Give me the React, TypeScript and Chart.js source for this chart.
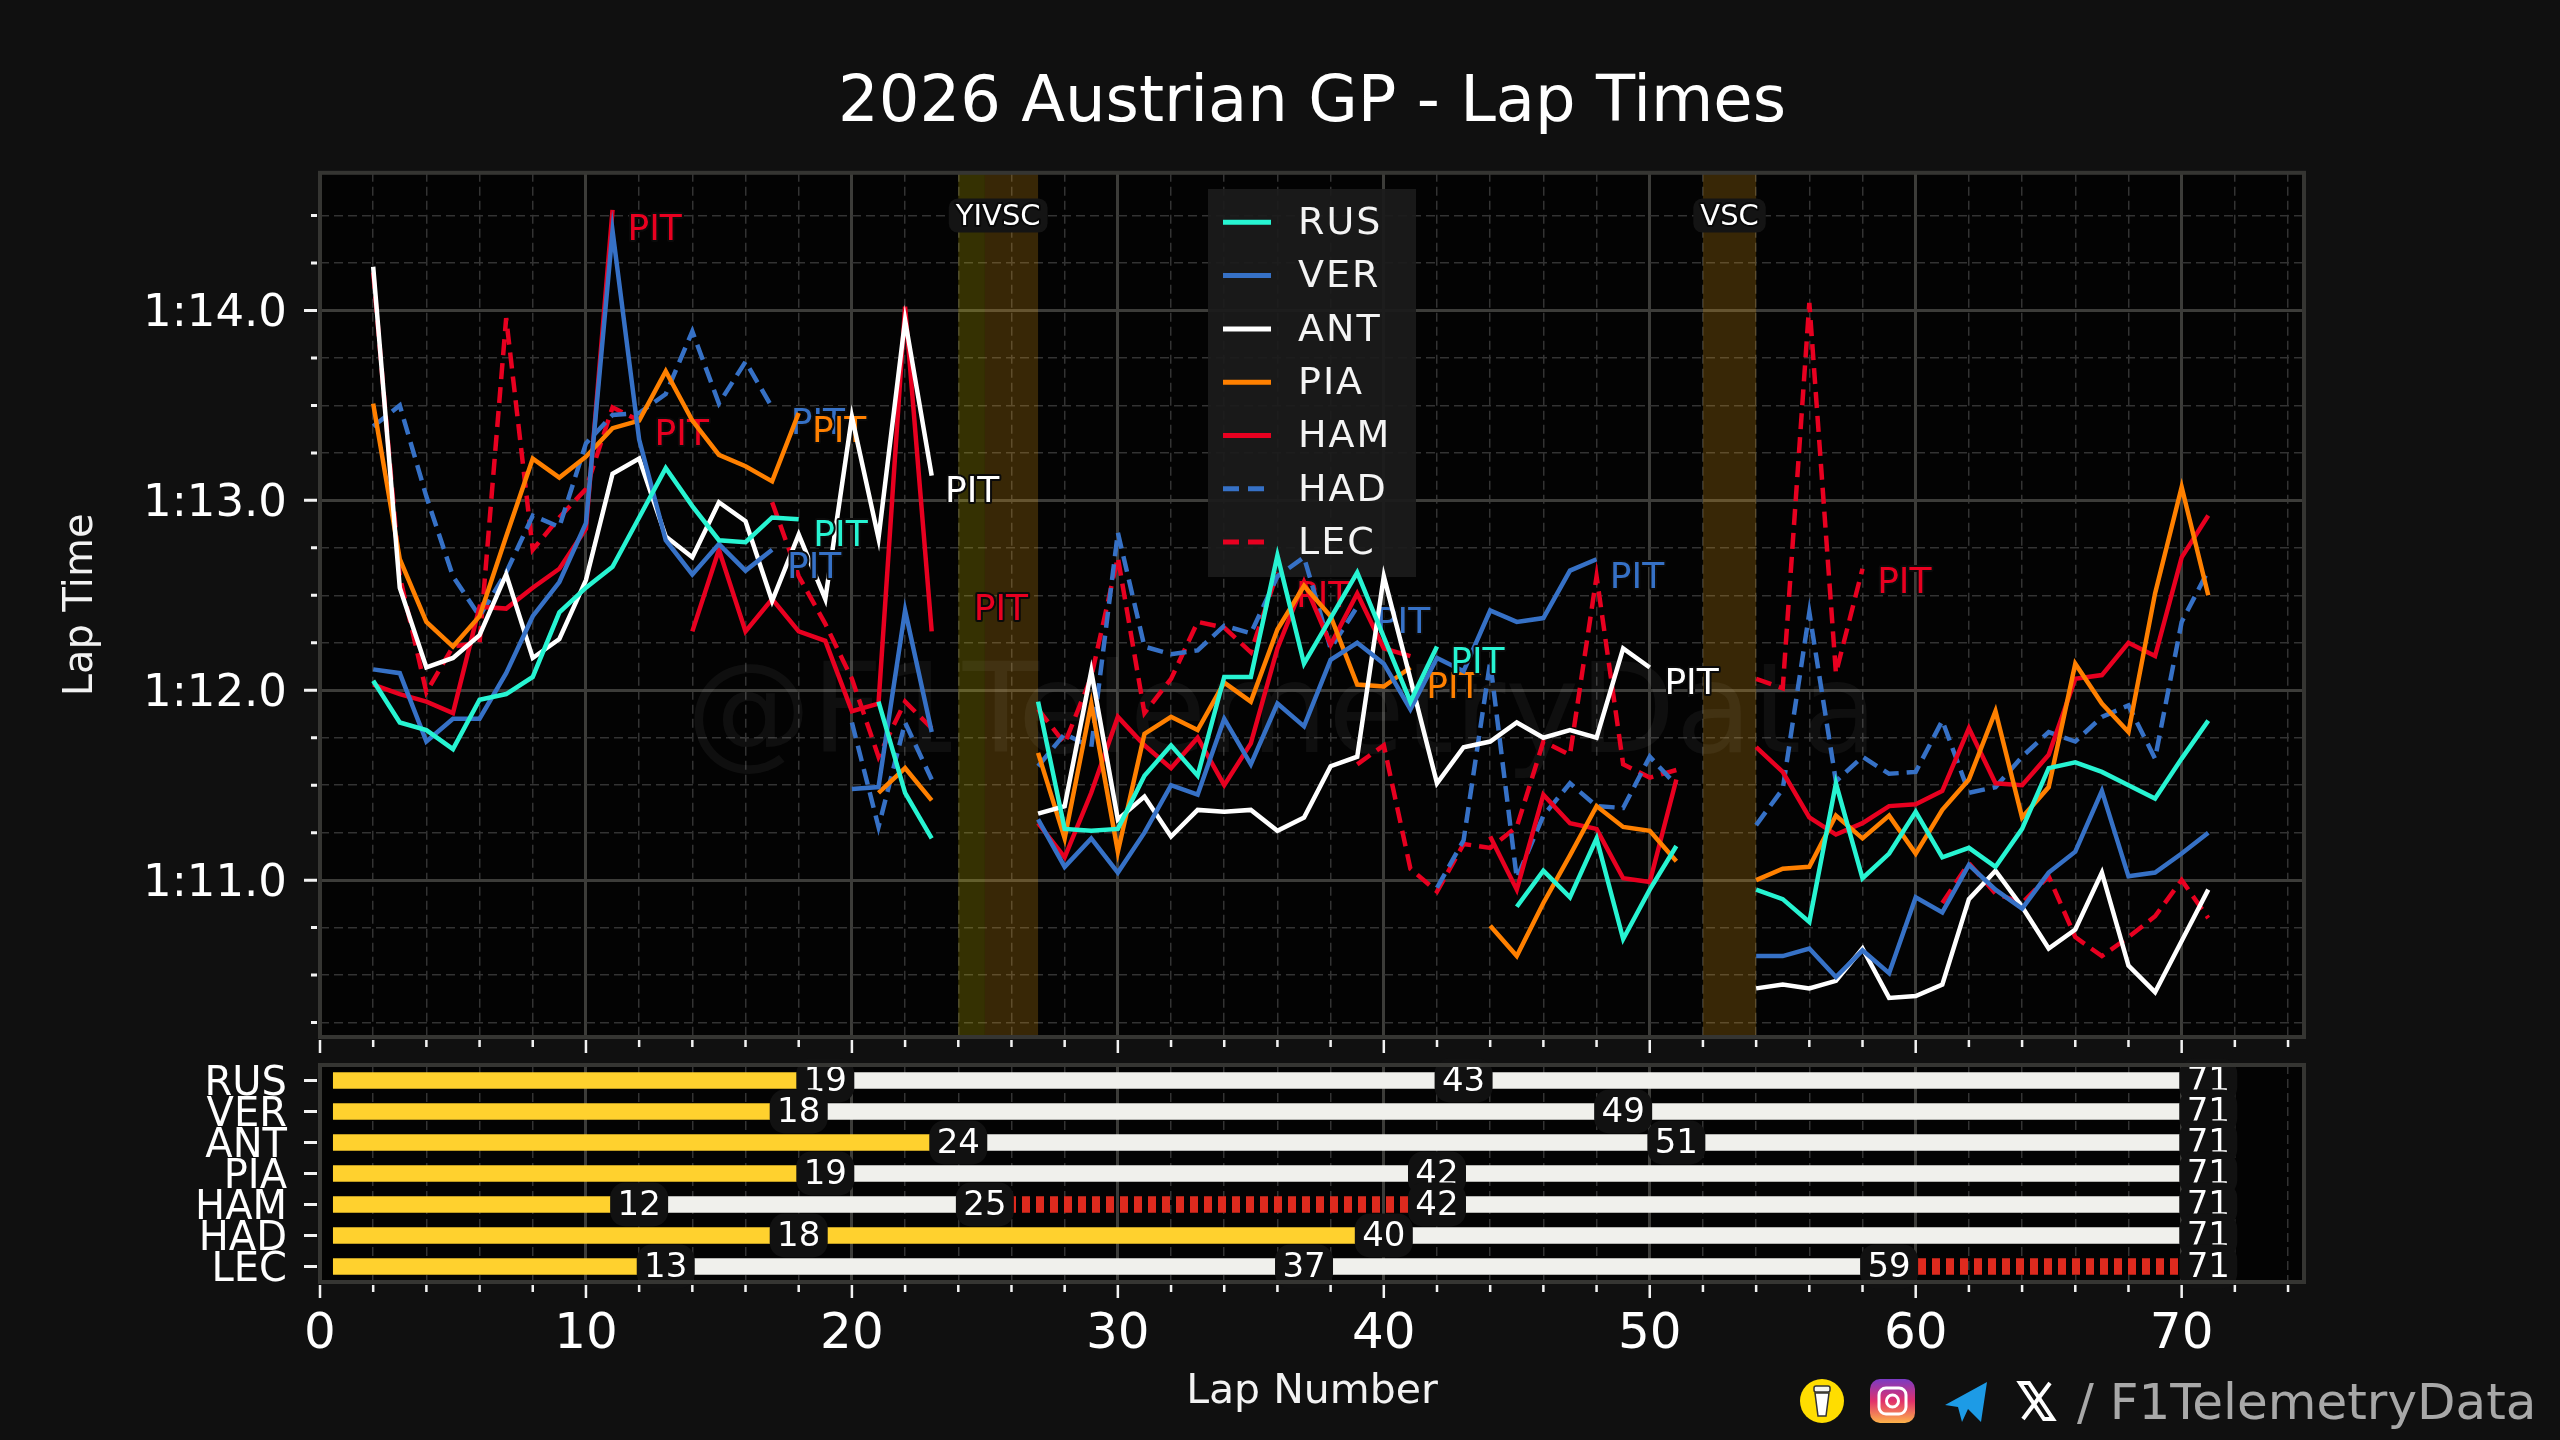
import { useEffect, useRef } from "react";
import { Chart, registerables } from "chart.js";

Chart.register(...registerables);

const FONT = "'DejaVu Sans'";

// [first lap of the run, lap times in seconds]
const rusTimes: [number, number[]][] = [
  [2, [72.05, 71.83, 71.79, 71.69, 71.95, 71.98, 72.07, 72.41, 72.54, 72.65, 72.91, 73.17, 72.97, 72.79, 72.78, 72.91, 72.9]],
  [21, [71.94, 71.46, 71.22]],
  [27, [71.94, 71.27, 71.26, 71.27, 71.55, 71.71, 71.55, 72.07, 72.07, 72.71, 72.14, 72.38, 72.62, 72.28, 71.94, 72.23]],
  [45, [70.86, 71.05, 70.91, 71.22, 70.69, 70.95, 71.18]],
  [54, [70.95, 70.9, 70.78, 71.51, 71.01, 71.14, 71.36, 71.12, 71.17, 71.07, 71.27, 71.59, 71.62, 71.57, 71.5, 71.43, 71.64, 71.84]],
];
const verTimes: [number, number[]][] = [
  [2, [72.11, 72.09, 71.73, 71.85, 71.85, 72.09, 72.39, 72.57, 72.88, 74.42, 73.32, 72.79, 72.61, 72.77, 72.63, 72.74]],
  [20, [71.48, 71.49, 72.42, 71.78]],
  [27, [71.32, 71.07, 71.22, 71.04, 71.25, 71.5, 71.45, 71.85, 71.61, 71.93, 71.81, 72.16, 72.25, 72.14, 71.9, 72.17, 72.1, 72.42, 72.36, 72.38, 72.63, 72.69]],
  [54, [70.6, 70.6, 70.64, 70.49, 70.63, 70.51, 70.91, 70.83, 71.08, 70.95, 70.85, 71.04, 71.15, 71.47, 71.02, 71.04, 71.14, 71.25]],
];
const antTimes: [number, number[]][] = [
  [2, [74.23, 72.54, 72.12, 72.17, 72.29, 72.61, 72.17, 72.27, 72.58, 73.14, 73.22, 72.81, 72.7, 72.99, 72.89, 72.47, 72.82, 72.48, 73.44, 72.8, 73.95, 73.13]],
  [27, [71.35, 71.39, 72.1, 71.32, 71.44, 71.23, 71.37, 71.36, 71.37, 71.26, 71.33, 71.6, 71.65, 72.6, 72.06, 71.51, 71.7, 71.73, 71.83, 71.75, 71.79, 71.75, 72.22, 72.12]],
  [54, [70.43, 70.45, 70.43, 70.47, 70.64, 70.38, 70.39, 70.45, 70.9, 71.05, 70.86, 70.64, 70.74, 71.04, 70.55, 70.41, 70.68, 70.95]],
];
const piaTimes: [number, number[]][] = [
  [2, [73.51, 72.69, 72.36, 72.23, 72.39, 72.81, 73.22, 73.12, 73.23, 73.38, 73.42, 73.68, 73.42, 73.24, 73.18, 73.1, 73.46]],
  [21, [71.46, 71.59, 71.42]],
  [27, [71.67, 71.22, 71.93, 71.15, 71.77, 71.86, 71.79, 72.04, 71.94, 72.32, 72.55, 72.39, 72.03, 72.02, 72.12]],
  [44, [70.76, 70.6, 70.88, 71.13, 71.39, 71.28, 71.26, 71.1]],
  [54, [71.0, 71.06, 71.07, 71.34, 71.22, 71.34, 71.14, 71.37, 71.53, 71.89, 71.33, 71.49, 72.14, 71.93, 71.78, 72.51, 73.07, 72.5]],
];
const hamTimes: [number, number[]][] = [
  [2, [72.03, 71.98, 71.94, 71.88, 72.44, 72.43, 72.54, 72.64, 72.85, 74.53]],
  [14, [72.31, 72.74, 72.31, 72.48, 72.31, 72.26, 71.89, 71.93, 74.02, 72.31]],
  [27, [71.3, 71.12, 71.46, 71.86, 71.71, 71.59, 71.75, 71.5, 71.72, 72.22, 72.57, 72.24, 72.51, 72.22, 72.18]],
  [44, [71.23, 70.95, 71.45, 71.3, 71.27, 71.01, 70.99, 71.53]],
  [54, [71.7, 71.57, 71.33, 71.24, 71.3, 71.39, 71.4, 71.47, 71.8, 71.51, 71.5, 71.66, 72.06, 72.08, 72.25, 72.18, 72.7, 72.92]],
];
const hadTimes: [number, number[]][] = [
  [2, [73.39, 73.5, 73.02, 72.6, 72.39, 72.62, 72.92, 72.86, 73.3, 73.45, 73.46, 73.56, 73.89, 73.51, 73.73, 73.49]],
  [20, [71.83, 71.28, 71.83, 71.53]],
  [27, [71.6, 71.77, 71.7, 72.83, 72.23, 72.19, 72.21, 72.34, 72.3, 72.6, 72.7, 72.22, 72.44]],
  [42, [70.96, 71.21, 72.15, 71.01, 71.34, 71.51, 71.39, 71.38, 71.65, 71.5]],
  [54, [71.29, 71.48, 72.41, 71.52, 71.65, 71.56, 71.57, 71.84, 71.46, 71.49, 71.65, 71.78, 71.73, 71.86, 71.92, 71.64, 72.36, 72.63]],
];
const lecTimes: [number, number[]][] = [
  [2, [74.2, 72.6, 71.99, 72.23, 72.25, 73.96, 72.74, 72.91, 73.06, 73.49, 73.42]],
  [17, [72.99, 72.6, 72.35, 72.06, 71.65, 71.94, 71.8]],
  [27, [71.9, 71.72, 72.07, 72.7, 71.88, 72.06, 72.36, 72.33, 72.2, 72.62]],
  [39, [71.61, 71.71, 71.06, 70.94, 71.19, 71.17, 71.28, 71.73, 71.66, 72.6, 71.61, 71.54, 71.58]],
  [54, [72.06, 72.01, 74.04, 72.09, 72.64]],
  [61, [70.88, 71.09, 70.93, 70.88, 71.02, 70.7, 70.6, 70.7, 70.81, 71.0, 70.8]],
];

const driverCodes = ["RUS", "VER", "ANT", "PIA", "HAM", "HAD", "LEC"];
const driverTimes = [rusTimes, verTimes, antTimes, piaTimes, hamTimes, hadTimes, lecTimes];
const driverColors = ["#27F4D2", "#3671C6", "#FFFFFF", "#FF8000", "#E80020", "#3671C6", "#E80020"];
const dashedDrivers = ["HAD", "LEC"];

// [lap, time] where each PIT note sits
const rusPits = [[18.55, 72.83], [42.5, 72.16]];
const verPits = [[17.56, 72.66], [48.5, 72.61]];
const antPits = [[23.5, 73.06], [50.55, 72.05]];
const piaPits = [[18.5, 73.38], [41.6, 72.03]];
const hamPits = [[11.56, 74.44], [24.58, 72.44]];
const hadPits = [[17.7, 73.42], [39.7, 72.37]];
const lecPits = [[12.58, 73.36], [36.7, 72.51], [58.55, 72.58]];
const driverPits = [rusPits, verPits, antPits, piaPits, hamPits, hadPits, lecPits];

const neutralFrom = [24, 25, 52];
const neutralTo = [25, 27, 54];
const neutralColors = ["rgba(255,235,0,0.2)", "rgba(255,175,20,0.21)", "rgba(255,175,20,0.21)"];
const neutralNames = ["YIVSC", "VSC"];
const neutralNameLaps = [25.5, 53];

// stint end laps and tyre per stint
const driverStops = [
  [19, 43, 71],
  [18, 49, 71],
  [24, 51, 71],
  [19, 42, 71],
  [12, 25, 42, 71],
  [18, 40, 71],
  [13, 37, 59, 71],
];
const driverTyres = [
  ["M", "H", "H"],
  ["M", "H", "H"],
  ["M", "H", "H"],
  ["M", "H", "H"],
  ["M", "H", "S", "H"],
  ["M", "M", "H"],
  ["M", "H", "H", "S"],
];

const isMajorLap = (v: number) => v % 10 === 0;
const isWhole = (v: number) => Math.abs(v - Math.round(v)) < 1e-6;

const expandTimes = (runs: [number, number[]][]) => {
  const points: { x: number; y: number | null }[] = [];
  runs.forEach(([first, times]) => {
    times.forEach((t, i) => points.push({ x: first + i, y: t }));
    points.push({ x: first + times.length, y: null });
  });
  return points;
};

const outlinedText = (ctx: any, text: string, x: number, y: number, color: string) => {
  ctx.lineJoin = "round";
  ctx.lineWidth = 4;
  ctx.strokeStyle = "#0a0a0a";
  ctx.strokeText(text, x, y);
  ctx.fillStyle = color;
  ctx.fillText(text, x, y);
};

const plotFrame = {
  id: "plotFrame",
  beforeDraw(chart: any) {
    const { ctx, chartArea: a } = chart;
    ctx.save();
    ctx.fillStyle = "#030303";
    ctx.fillRect(a.left, a.top, a.right - a.left, a.bottom - a.top);
    ctx.restore();
  },
  afterDraw(chart: any) {
    const { ctx, chartArea: a, scales } = chart;
    ctx.save();
    ctx.strokeStyle = "#353532";
    ctx.lineWidth = 4;
    ctx.strokeRect(a.left, a.top, a.right - a.left, a.bottom - a.top);
    ctx.strokeStyle = "#f2f2f2";
    ctx.lineWidth = 2.5;
    ctx.beginPath();
    scales.x.ticks.forEach((t: any) => {
      const x = scales.x.getPixelForValue(t.value);
      ctx.moveTo(x, a.bottom + 3);
      ctx.lineTo(x, a.bottom + (isMajorLap(t.value) ? 16 : 10));
    });
    ctx.stroke();
    ctx.lineWidth = 3;
    ctx.beginPath();
    scales.y.ticks.forEach((t: any, i: number) => {
      const y = scales.y.getPixelForTick(i);
      const major = scales.y.type === "category" || isWhole(t.value);
      ctx.moveTo(a.left - 3, y);
      ctx.lineTo(a.left - (major ? 16 : 9), y);
    });
    ctx.stroke();
    ctx.restore();
  },
};

const lapDecor = {
  id: "lapDecor",
  beforeDatasetsDraw(chart: any) {
    const { ctx, chartArea: a, scales } = chart;
    ctx.save();
    neutralFrom.forEach((from, i) => {
      const x0 = scales.x.getPixelForValue(from);
      const x1 = scales.x.getPixelForValue(neutralTo[i]);
      ctx.fillStyle = neutralColors[i];
      ctx.fillRect(x0, a.top, x1 - x0, a.bottom - a.top);
    });

    ctx.font = `125px ${FONT}`;
    ctx.fillStyle = "rgba(255,255,255,0.05)";
    ctx.textAlign = "center";
    ctx.textBaseline = "middle";
    ctx.fillText("@F1TelemetryData", 1282, 720);

    // legend sits under the lines
    ctx.fillStyle = "rgba(27,27,27,0.92)";
    ctx.fillRect(1208, 189, 208, 388);
    ctx.textAlign = "left";
    ctx.font = `38px ${FONT}`;
    (ctx as any).letterSpacing = "2px";
    driverCodes.forEach((code, i) => {
      const y = 222.3 + i * 53.3;
      ctx.strokeStyle = driverColors[i];
      ctx.lineWidth = 5;
      ctx.setLineDash(dashedDrivers.includes(code) ? [16, 9] : []);
      ctx.beginPath();
      ctx.moveTo(1223, y);
      ctx.lineTo(1271, y);
      ctx.stroke();
      ctx.setLineDash([]);
      ctx.fillStyle = "#f4f4f4";
      ctx.fillText(code, 1298, y + 2);
    });
    ctx.restore();
  },
  afterDatasetDraw(chart: any, args: any) {
    const { ctx, scales } = chart;
    const i = args.index;
    ctx.save();
    ctx.font = `36px ${FONT}`;
    ctx.textAlign = "left";
    ctx.textBaseline = "middle";
    driverPits[i].forEach(([lap, time]) => {
      outlinedText(ctx, "PIT", scales.x.getPixelForValue(lap), scales.y.getPixelForValue(time) + 4, driverColors[i]);
    });
    ctx.restore();
  },
  afterDatasetsDraw(chart: any) {
    const { ctx, scales } = chart;
    ctx.save();
    ctx.font = `29px ${FONT}`;
    ctx.textAlign = "center";
    ctx.textBaseline = "middle";
    neutralNames.forEach((name, i) => {
      const x = scales.x.getPixelForValue(neutralNameLaps[i]);
      const y = scales.y.getPixelForValue(74.5);
      const w = ctx.measureText(name).width + 14;
      ctx.fillStyle = "#141414";
      ctx.beginPath();
      ctx.roundRect(x - w / 2, y - 17, w, 34, 9);
      ctx.fill();
      outlinedText(ctx, name, x, y + 2, "#ffffff");
    });
    ctx.restore();
  },
};

const stintLabels = {
  id: "stintLabels",
  afterDatasetsDraw(chart: any) {
    const { ctx, scales } = chart;
    ctx.save();
    ctx.font = `34px ${FONT}`;
    ctx.textAlign = "center";
    ctx.textBaseline = "middle";
    driverStops.forEach((stops, row) => {
      const y = scales.y.getPixelForValue(row);
      stops.forEach((stop) => {
        const x = scales.x.getPixelForValue(stop);
        ctx.fillStyle = "#111111";
        ctx.beginPath();
        ctx.roundRect(x - 29, y - 22, 58, 44, 15);
        ctx.fill();
        ctx.fillStyle = "#ffffff";
        ctx.fillText(String(stop), x, y + 2);
      });
    });
    ctx.restore();
  },
};

const softHatch = () => {
  const tile = document.createElement("canvas");
  tile.width = 14;
  tile.height = 16;
  const tctx = tile.getContext("2d") as CanvasRenderingContext2D;
  tctx.fillStyle = "#DE2A1E";
  tctx.fillRect(0, 0, 8, 16);
  return tctx.createPattern(tile, "repeat");
};

const lapGrid = {
  color: (c: any) => (isMajorLap(c.tick.value) ? "#3c3c39" : "#333333"),
  lineWidth: (c: any) => (isMajorLap(c.tick.value) ? 3 : 1.5),
  drawTicks: false,
};
const lapBorder = {
  display: false,
  dash: (c: any) => (isMajorLap(c.tick.value) ? [] : [9, 5]),
};

export default function App() {
  const lapRef = useRef<HTMLCanvasElement | null>(null);
  const tyreRef = useRef<HTMLCanvasElement | null>(null);

  useEffect(() => {
    if (!lapRef.current || !tyreRef.current) return;

    const lapChart = new Chart(lapRef.current, {
      type: "line",
      data: {
        datasets: driverCodes.map((code, i) => ({
          label: code,
          data: expandTimes(driverTimes[i]) as any,
          borderColor: driverColors[i],
          borderWidth: 4.5,
          borderDash: dashedDrivers.includes(code) ? [16, 8] : [],
          pointRadius: 0,
          tension: 0,
          spanGaps: false,
          borderJoinStyle: "miter" as const,
        })),
      },
      options: {
        animation: false,
        responsive: false,
        devicePixelRatio: 1,
        layout: { padding: { right: 256 } },
        plugins: {
          legend: { display: false },
          tooltip: { enabled: false },
          title: {
            display: true,
            fullSize: false,
            text: "2026 Austrian GP - Lap Times",
            color: "#ffffff",
            font: { family: FONT, size: 64, weight: "normal" },
            padding: { top: 66, bottom: 30 },
          },
        },
        scales: {
          x: {
            type: "linear",
            min: 0,
            max: 74.6,
            grid: lapGrid,
            border: lapBorder,
            ticks: { display: false, stepSize: 2, includeBounds: false, autoSkip: false },
            afterFit: (s: any) => {
              s.height = 403;
            },
          },
          y: {
            type: "linear",
            min: 70.174,
            max: 74.725,
            grid: {
              color: (c: any) => (isWhole(c.tick.value) ? "#3c3c39" : "#333333"),
              lineWidth: (c: any) => (isWhole(c.tick.value) ? 3 : 1.5),
              drawTicks: false,
            },
            border: { display: false, dash: (c: any) => (isWhole(c.tick.value) ? [] : [9, 5]) },
            title: {
              display: true,
              text: "Lap Time",
              color: "#f2f2f2",
              font: { family: FONT, size: 40 },
              padding: { top: 58, bottom: 0 },
            },
            ticks: {
              stepSize: 0.25,
              includeBounds: false,
              autoSkip: false,
              padding: 33,
              labelOffset: 4,
              color: "#ffffff",
              font: { family: FONT, size: 45 },
              callback: (v: any) => (isWhole(v) ? `1:${(v - 60).toFixed(1)}` : ""),
            },
            afterFit: (s: any) => {
              s.width = 320;
            },
          },
        },
      } as any,
      plugins: [plotFrame, lapDecor],
    });

    const hatch = softHatch();
    const tyreColor = (t: string) => (t === "M" ? "#FFD12E" : t === "H" ? "#F0F0EC" : hatch);
    const stintCount = Math.max(...driverStops.map((s) => s.length));
    const stintSets = Array.from({ length: stintCount }, (_, k) => ({
      label: `Stint ${k + 1}`,
      data: driverStops.map((stops) => (k < stops.length ? [k === 0 ? 0.5 : stops[k - 1], stops[k]] : null)),
      backgroundColor: driverTyres.map((tyres) => (k < tyres.length ? tyreColor(tyres[k]) : "transparent")),
      barThickness: 16,
      grouped: false,
    }));

    const tyreChart = new Chart(tyreRef.current, {
      type: "bar",
      data: { labels: driverCodes, datasets: stintSets as any },
      options: {
        indexAxis: "y",
        animation: false,
        responsive: false,
        devicePixelRatio: 1,
        layout: { padding: { top: 1065, right: 256 } },
        plugins: { legend: { display: false }, tooltip: { enabled: false } },
        scales: {
          x: {
            type: "linear",
            min: 0,
            max: 74.6,
            grid: lapGrid,
            border: lapBorder,
            title: {
              display: true,
              text: "Lap Number",
              color: "#f2f2f2",
              font: { family: FONT, size: 41 },
              padding: { top: 0, bottom: 23 },
            },
            ticks: {
              stepSize: 2,
              includeBounds: false,
              autoSkip: false,
              maxRotation: 0,
              padding: 23,
              color: "#ffffff",
              font: { family: FONT, size: 50 },
              callback: (v: any) => (isMajorLap(v) ? String(v) : ""),
            },
            afterFit: (s: any) => {
              s.height = 158;
            },
          },
          y: {
            type: "category",
            grid: { display: false, drawTicks: false },
            border: { display: false },
            ticks: {
              autoSkip: false,
              padding: 33,
              labelOffset: 4,
              color: "#ffffff",
              font: { family: FONT, size: 40 },
            },
            afterFit: (s: any) => {
              s.width = 320;
            },
          },
        },
      } as any,
      plugins: [plotFrame, stintLabels],
    });

    return () => {
      lapChart.destroy();
      tyreChart.destroy();
    };
  }, []);

  const layer = { position: "absolute", left: 0, top: 0 } as const;

  return (
    <div style={{ position: "fixed", left: 0, top: 0, width: 2560, height: 1440, background: "#101010", overflow: "hidden" }}>
      <canvas ref={tyreRef} width={2560} height={1440} style={layer} />
      <canvas ref={lapRef} width={2560} height={1440} style={layer} />

      <svg width={2560} height={1440} style={layer}>
        {/* cup */}
        <ellipse cx={1822} cy={1401} rx={22} ry={22} fill="#FFDD00" />
        <rect x={1814} y={1386} width={16} height={6} rx={2} fill="#f6f6f0" stroke="#333" strokeWidth={1.5} />
        <path d="M1815 1393 L1829 1393 L1826 1416 L1818 1416 Z" fill="#ffffff" stroke="#333" strokeWidth={1.5} />
        {/* instagram */}
        <defs>
          <linearGradient id="ig" x1="0" y1="0" x2="0" y2="1">
            <stop offset="0" stopColor="#7a3bc4" />
            <stop offset="0.5" stopColor="#e1306c" />
            <stop offset="1" stopColor="#fdb34a" />
          </linearGradient>
        </defs>
        <rect x={1870} y={1379} width={45} height={44} rx={10} fill="url(#ig)" />
        <rect x={1879} y={1388} width={27} height={26} rx={7} fill="none" stroke="#fff" strokeWidth={3} />
        <circle cx={1892.5} cy={1401} r={6} fill="none" stroke="#fff" strokeWidth={3} />
        {/* telegram */}
        <path d="M1945 1405 L1987 1382 L1981 1422 L1968 1409 L1962 1422 L1958 1407 Z" fill="#1D9BE6" />
        {/* X */}
        <path d="M2020 1383 L2029 1383 L2053 1419 L2044 1419 Z" fill="none" stroke="#ffffff" strokeWidth={4} />
        <path d="M2050 1383 L2023 1419" stroke="#ffffff" strokeWidth={4} />
      </svg>

      <div
        style={{
          ...layer,
          left: 2077,
          top: 1372,
          font: `50px ${FONT}`,
          color: "#a8a8a8",
          whiteSpace: "nowrap",
          lineHeight: "60px",
        }}
      >
        / F1TelemetryData
      </div>
    </div>
  );
}
